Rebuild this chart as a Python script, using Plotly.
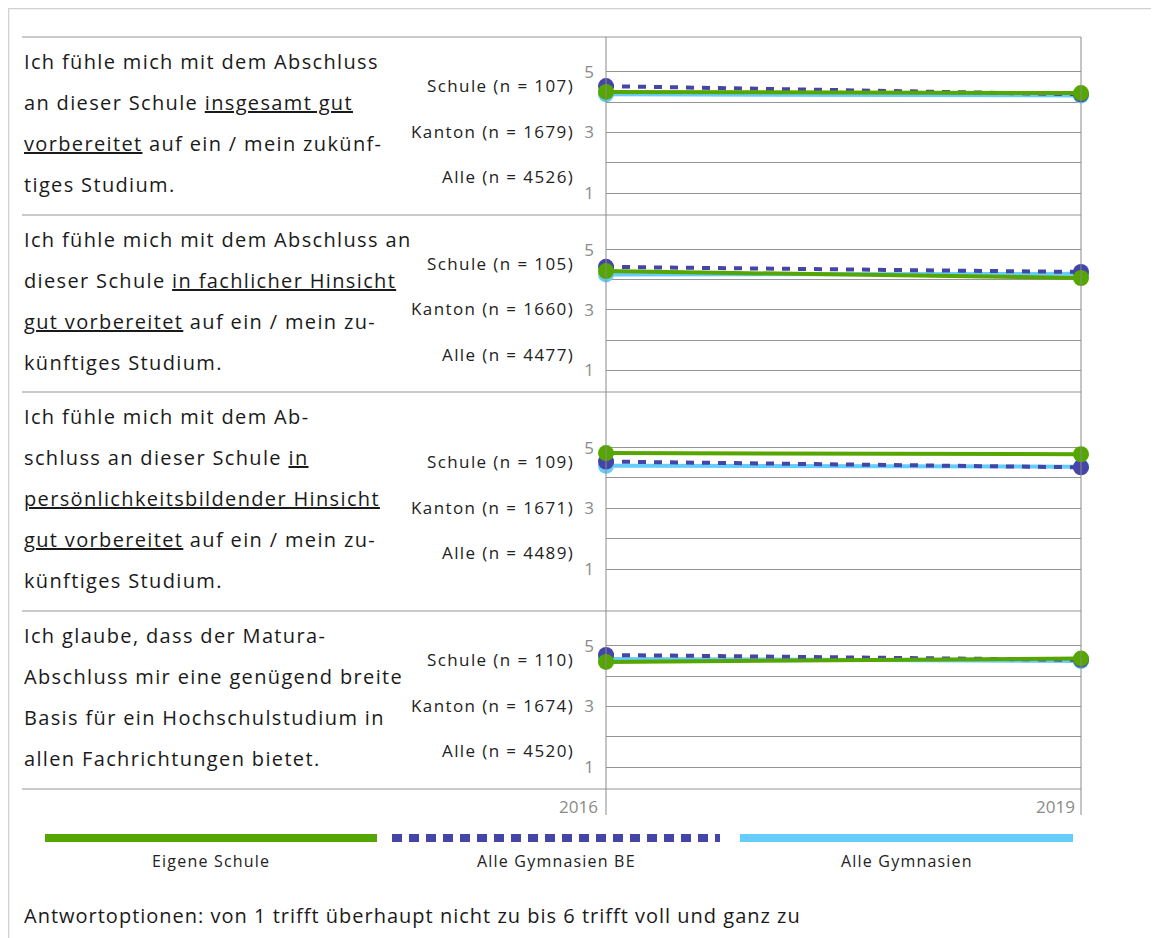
import plotly.graph_objects as go

# the page puts the figure 8 px in from the top left corner
PAGE_OFF = 8
W, H = 1159 - PAGE_OFF, 938 - PAGE_OFF

# ---- data ---------------------------------------------------------------
years = [2016, 2019]
series_names = ["Eigene Schule", "Alle Gymnasien BE", "Alle Gymnasien"]

eigene_schule = [[4.34, 4.30], [4.29, 4.06], [4.82, 4.78], [4.47, 4.58]]
gymnasien_be = [[4.53, 4.26], [4.43, 4.26], [4.54, 4.35], [4.70, 4.54]]
gymnasien_alle = [[4.26, 4.22], [4.18, 4.20], [4.40, 4.37], [4.57, 4.50]]

n_schule = [107, 105, 109, 110]
n_kanton = [1679, 1660, 1671, 1674]
n_alle = [4526, 4477, 4489, 4520]

questions = [
    ["Ich fühle mich mit dem Abschluss",
     "an dieser Schule <u>insgesamt gut</u>",
     "<u>vorbereitet</u> auf ein / mein zukünf-",
     "tiges Studium."],
    ["Ich fühle mich mit dem Abschluss an",
     "dieser Schule <u>in fachlicher Hinsicht</u>",
     "<u>gut vorbereitet</u> auf ein / mein zu-",
     "künftiges Studium."],
    ["Ich fühle mich mit dem Ab-",
     "schluss an dieser Schule <u>in</u>",
     "<u>persönlichkeitsbildender Hinsicht</u>",
     "<u>gut vorbereitet</u> auf ein / mein zu-",
     "künftiges Studium."],
    ["Ich glaube, dass der Matura-",
     "Abschluss mir eine genügend breite",
     "Basis für ein Hochschulstudium in",
     "allen Fachrichtungen bietet."],
]
footnote = "Antwortoptionen: von 1 trifft überhaupt nicht zu bis 6 trifft voll und ganz zu"

# ---- styling --------------------------------------------------------------
GREEN = "#56a602"
BLUE = "#4545a8"
LIGHT = "#66ccfa"
GRID = "#959595"
FONT = "Open Sans"
TEXT = "#1a1a1a"

row_edges = [37, 215, 392, 611, 789]        # screen pixel rows of the table
y_ranges = [[0.28, 6.15], [0.28, 6.15], [-0.38, 6.83], [0.28, 6.15]]
plot_x0, plot_x1 = 606, 1081


def px(x):
    return (x - PAGE_OFF) / W


def py(y):
    return 1 - (y - PAGE_OFF) / H


def spaced(txt, sp):
    return f'<span style="letter-spacing:{sp}px">{txt}</span>'


fig = go.Figure()
layout = {}

for i in range(4):
    sfx = "" if i == 0 else str(i + 1)
    for vals, color, dash in [(gymnasien_alle[i], LIGHT, "solid"),
                              (gymnasien_be[i], BLUE, "8px,8px"),
                              (eigene_schule[i], GREEN, "solid")]:
        fig.add_trace(go.Scatter(
            x=years, y=vals, xaxis="x" + sfx, yaxis="y" + sfx,
            mode="lines+markers",
            line=dict(color=color, width=4, dash=dash),
            marker=dict(color=color, size=16),
            cliponaxis=False, showlegend=False, hoverinfo="skip"
        ))

    layout["xaxis" + sfx] = dict(
        domain=[px(plot_x0), px(plot_x1)], range=[2016, 2019],
        visible=False, anchor="y" + sfx, fixedrange=True
    )
    layout["yaxis" + sfx] = dict(
        domain=[py(row_edges[i + 1]), py(row_edges[i])],
        range=y_ranges[i], anchor="x" + sfx,
        tickvals=[1, 2, 3, 4, 5], ticktext=["1", "", "3", "", "5"],
        showgrid=True, gridcolor=GRID, gridwidth=1,
        zeroline=False, showline=False, ticks="",
        tickfont=dict(family=FONT, size=17, color="#8a8a8a"),
        ticklabelstandoff=11, fixedrange=True
    )

    # group labels next to the axis
    for yv, txt in [(4.55, f"Schule (n = {n_schule[i]})"),
                    (3.04, f"Kanton (n = {n_kanton[i]})"),
                    (1.54, f"Alle (n = {n_alle[i]})")]:
        fig.add_annotation(
            x=px(576), xref="paper", y=yv, yref="y" + sfx,
            text=spaced(txt, 1.4), showarrow=False, xanchor="right",
            yanchor="middle", font=dict(family=FONT, size=17, color="#222")
        )

    # question text, one annotation per line
    lines = questions[i]
    mid = (row_edges[i] + row_edges[i + 1]) / 2 - 3
    step = 41
    first = mid - step * (len(lines) - 1) / 2
    for k, ln in enumerate(lines):
        fig.add_annotation(
            x=px(22), xref="paper", y=py(first + k * step), yref="paper",
            text=spaced(ln, 1.35), showarrow=False, xanchor="left",
            yanchor="middle", font=dict(family=FONT, size=20, color=TEXT)
        )

# table rules
for y in row_edges:
    fig.add_shape(type="line", xref="paper", yref="paper",
                  x0=px(22), x1=px(plot_x1), y0=py(y), y1=py(y),
                  line=dict(color=GRID, width=1))
for x in (plot_x0, plot_x1):
    fig.add_shape(type="line", xref="paper", yref="paper",
                  x0=px(x), x1=px(x), y0=py(37), y1=py(815),
                  line=dict(color="#8a8a8a", width=1))

# year labels
for x, yr in [(600, years[0]), (1077, years[1])]:
    fig.add_annotation(x=px(x), xref="paper", y=py(806), yref="paper",
                       text=str(yr), showarrow=False, xanchor="right",
                       yanchor="middle",
                       font=dict(family=FONT, size=17, color="#8a8a8a"))

# outer frame (sits right at the figure's edge)
fig.add_shape(type="line", xref="paper", yref="paper",
              x0=0, x1=1, y0=py(8.5), y1=py(8.5),
              line=dict(color="#d0d0d0", width=1.5))
fig.add_shape(type="line", xref="paper", yref="paper",
              x0=px(8.5), x1=px(8.5), y0=py(8.5), y1=0,
              line=dict(color="#d0d0d0", width=1.5))

# legend
legend_items = [(45, 377, GREEN, "solid"), (392, 720, BLUE, "10px,7px"),
                (740, 1073, LIGHT, "solid")]
for (x0, x1, color, dash), name in zip(legend_items, series_names):
    fig.add_shape(type="line", xref="paper", yref="paper",
                  x0=px(x0), x1=px(x1), y0=py(838), y1=py(838),
                  line=dict(color=color, width=8, dash=dash))
    fig.add_annotation(x=px((x0 + x1) / 2), xref="paper", y=py(861),
                       yref="paper", text=spaced(name, 1.2), showarrow=False,
                       xanchor="center", yanchor="middle",
                       font=dict(family=FONT, size=16, color="#222"))

fig.add_annotation(x=px(22), xref="paper", y=py(915), yref="paper",
                   text=spaced(footnote, 1.0), showarrow=False,
                   xanchor="left", yanchor="middle",
                   font=dict(family=FONT, size=20, color=TEXT))

fig.update_layout(
    width=W, height=H,
    margin=dict(l=0, r=0, t=0, b=0),
    paper_bgcolor="white", plot_bgcolor="white",
    **layout
)

fig.write_html("out.html")
